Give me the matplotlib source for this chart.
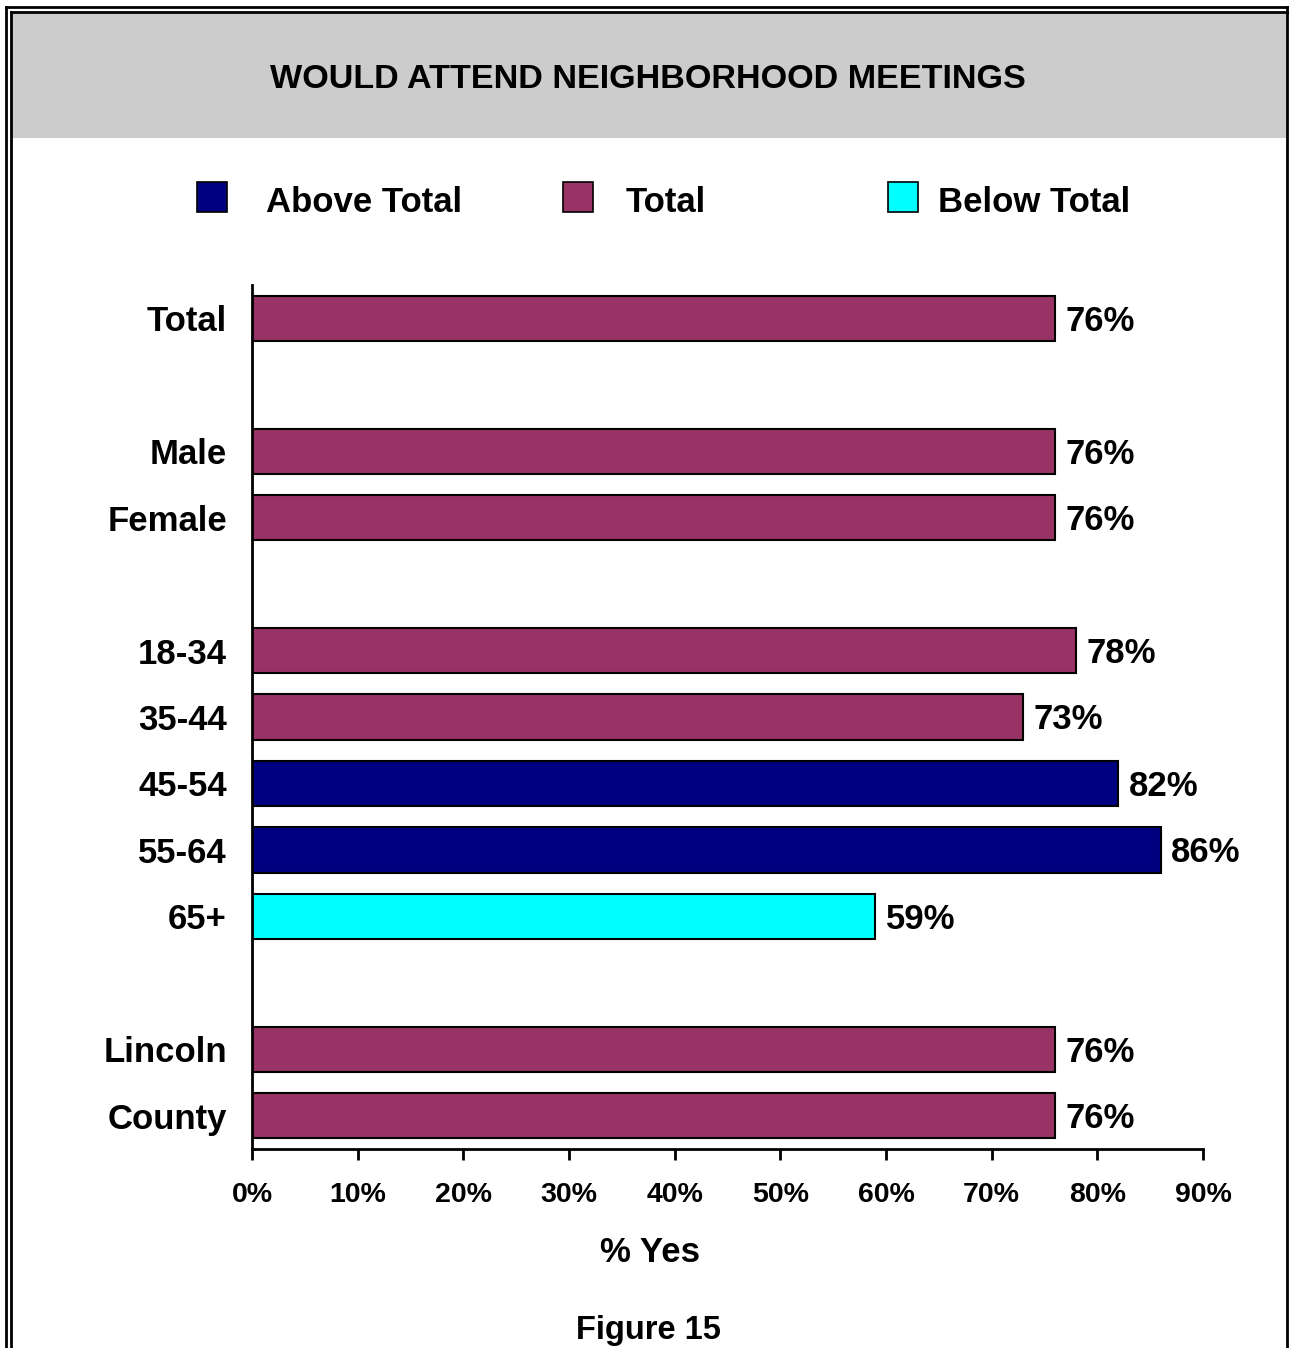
import matplotlib.pyplot as plt
from matplotlib.patches import Rectangle
from matplotlib.lines import Line2D

plt.rcParams['font.family'] = ['Liberation Sans', 'DejaVu Sans']
plt.rcParams['font.weight'] = 'bold'

# data (blank strings are spacer rows)
categories = ["Total", "", "Male", "Female", "", "18-34", "35-44", "45-54",
              "55-64", "65+", "", "Lincoln", "County"]
values = [76, None, 76, 76, None, 78, 73, 82, 86, 59, None, 76, 76]
groups = ["Total", None, "Total", "Total", None, "Total", "Total", "Above Total",
          "Above Total", "Below Total", None, "Total", "Total"]
legend_labels = ["Above Total", "Total", "Below Total"]
ticks = [0, 10, 20, 30, 40, 50, 60, 70, 80, 90]

colors = {"Above Total": "#000080", "Total": "#993366", "Below Total": "#00FFFF"}

W, H = 1289, 1348
fig = plt.figure(figsize=(W / 100, H / 100), dpi=100)

# frame: gray header and double border
fig.patches.append(Rectangle((11 / W, 1 - 138 / H), 1275 / W, 126 / H,
                             transform=fig.transFigure, facecolor="#CCCCCC",
                             edgecolor="none", zorder=0))
for x0, y0 in [(6, 7), (11, 12)]:
    fig.add_artist(Line2D([x0 / W, x0 / W], [0, 1 - y0 / H], transform=fig.transFigure,
                          color="black", lw=2))
    fig.add_artist(Line2D([x0 / W, 1287 / W], [1 - y0 / H, 1 - y0 / H],
                          transform=fig.transFigure, color="black", lw=2))
fig.add_artist(Line2D([1287 / W, 1287 / W], [0, 1 - 7 / H], transform=fig.transFigure,
                      color="black", lw=2))

fig.text(648 / W, 1 - 80 / H, "WOULD ATTEND NEIGHBORHOOD MEETINGS",
         ha="center", va="center", fontsize=24.6, fontweight="bold")

# legend drawn by hand to keep the uneven spacing
leg_sq_x = [197, 563, 888]
leg_tx_x = [266, 626, 938]
for lab, sx, tx in zip(legend_labels, leg_sq_x, leg_tx_x):
    fig.patches.append(Rectangle((sx / W, 1 - 212 / H), 30 / W, 30 / H,
                                 transform=fig.transFigure, facecolor=colors[lab],
                                 edgecolor="black", lw=1.2))
    fig.text(tx / W, 1 - 203 / H, lab, ha="left", va="center",
             fontsize=25, fontweight="bold")

ax = fig.add_axes([252 / W, (H - 1149) / H, (1203 - 252) / W, (1149 - 285) / H])

ypos = list(range(len(categories)))
for y, v, g in zip(ypos, values, groups):
    if v is None:
        continue
    ax.barh(y, v, height=0.68, color=colors[g], edgecolor="black", linewidth=1.5)
    ax.text(v + 1.0, y + 0.045, f"{v}%", ha="left", va="center", fontsize=25,
            fontweight="bold")

ax.set_ylim(len(categories) - 0.5, -0.5)
ax.set_xlim(0, 90)
ax.set_yticks(ypos)
ax.set_yticklabels(categories, fontsize=25, fontweight="bold")
ax.tick_params(axis="y", length=0, pad=18)
ax.set_xticks(ticks)
ax.set_xticklabels([f"{t}%" for t in ticks], fontsize=20.5, fontweight="bold")
ax.tick_params(axis="x", length=8, width=2, pad=16)
for s in ["top", "right"]:
    ax.spines[s].set_visible(False)
ax.spines["left"].set_linewidth(2)
ax.spines["bottom"].set_linewidth(2)

fig.text(650 / W, 1 - 1252 / H, "% Yes", ha="center", va="center",
         fontsize=25, fontweight="bold")
fig.text(648 / W, 1 - 1330 / H, "Figure 15", ha="center", va="center",
         fontsize=23.5, fontweight="bold")

fig.savefig("out.png", dpi=100)
